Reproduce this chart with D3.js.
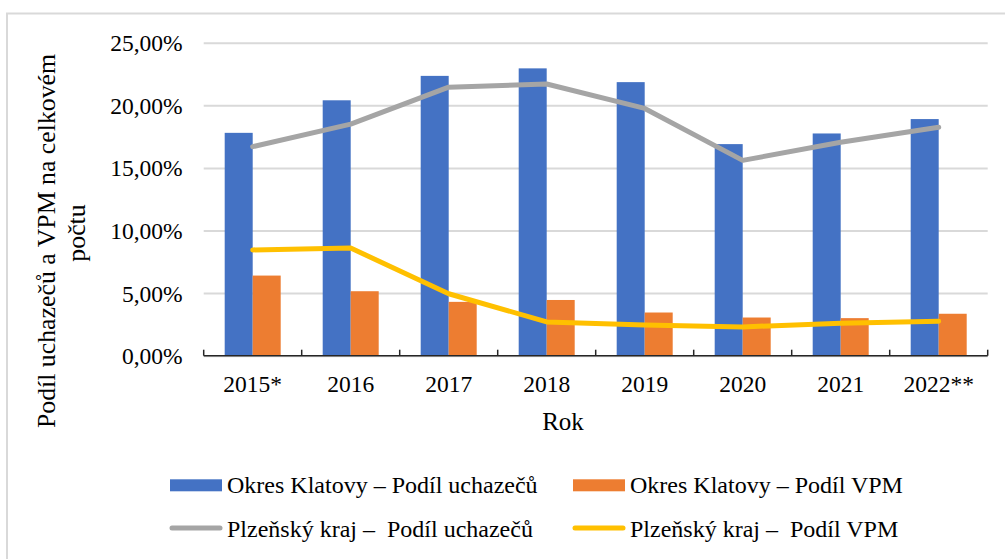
<!DOCTYPE html>
<html>
<head>
<meta charset="utf-8">
<script src="https://cdn.jsdelivr.net/npm/d3@7"></script>
<style>
  body { margin: 0; background: #fff; }
  svg { display: block; }
  svg text { font-family: "Liberation Serif", "Times New Roman", serif; fill: #000; }
  .tick text { font-size: 23.5px; }
  .legend text { font-size: 24px; white-space: pre; }
</style>
</head>
<body>
<svg id="chart" width="1005" height="559"></svg>
<script>
const years = ['2015*', '2016', '2017', '2018', '2019', '2020', '2021', '2022**'];
const klatovyUchazeci = [17.8, 20.4, 22.35, 22.95, 21.85, 16.9, 17.75, 18.9];
const klatovyVPM = [6.4, 5.15, 4.3, 4.45, 3.45, 3.05, 3.0, 3.35];
const plzenUchazeci = [16.7, 18.5, 21.45, 21.7, 19.75, 15.6, 17.05, 18.25];
const plzenVPM = [8.45, 8.6, 4.95, 2.7, 2.45, 2.3, 2.6, 2.75];
const yTicks = [0, 5, 10, 15, 20, 25];

const barSeries = [
  { name: 'Okres Klatovy – Podíl uchazečů', values: klatovyUchazeci, color: '#4472C4' },
  { name: 'Okres Klatovy – Podíl VPM', values: klatovyVPM, color: '#ED7D31' }
];
const lineSeries = [
  { name: 'Plzeňský kraj –  Podíl uchazečů', values: plzenUchazeci, color: '#A5A5A5' },
  { name: 'Plzeňský kraj –  Podíl VPM', values: plzenVPM, color: '#FFC000' }
];

const plotLeft = 203.7, plotRight = 987.7, plotTop = 42.7, plotBottom = 355.7;
const svg = d3.select('#chart');

// chart frame (only top and left edges are inside the picture)
svg.append('rect')
  .attr('x', 7).attr('y', 13.5)
  .attr('width', 1100).attr('height', 700)
  .attr('fill', 'none').attr('stroke', '#D9D9D9').attr('stroke-width', 2);

const x0 = d3.scaleBand().domain(years).range([plotLeft, plotRight]);
const x1 = d3.scaleBand().domain(barSeries.map(s => s.name))
  .range([0, x0.bandwidth()]).paddingOuter(0.75);
const y = d3.scaleLinear().domain([0, 25]).range([plotBottom, plotTop]);

// gridlines + y labels
const yAxis = d3.axisLeft(y).tickValues(yTicks)
  .tickSize(-(plotRight - plotLeft)).tickPadding(21)
  .tickFormat(v => v.toFixed(2).replace('.', ',') + '%');
svg.append('g')
  .attr('transform', `translate(${plotLeft},0)`)
  .call(yAxis)
  .attr('font-family', null)
  .attr('font-size', null)
  .call(g => g.select('.domain').remove())
  .call(g => g.selectAll('.tick line').attr('stroke', '#D9D9D9').attr('stroke-width', 2))
  .call(g => g.selectAll('.tick text').attr('dy', '0.34em'));

// bars
barSeries.forEach(s => {
  svg.append('g').selectAll('rect')
    .data(s.values)
    .join('rect')
    .attr('x', (d, i) => x0(years[i]) + x1(s.name))
    .attr('y', d => y(d))
    .attr('width', x1.bandwidth())
    .attr('height', d => plotBottom - y(d))
    .attr('fill', s.color);
});

// x axis with ticks pointing up at category boundaries
svg.append('line')
  .attr('x1', plotLeft).attr('x2', plotRight)
  .attr('y1', plotBottom).attr('y2', plotBottom)
  .attr('stroke', '#262626').attr('stroke-width', 1.5);
svg.append('g').selectAll('line')
  .data(years.concat(['end']))
  .join('line')
  .attr('x1', (d, i) => plotLeft + i * x0.step())
  .attr('x2', (d, i) => plotLeft + i * x0.step())
  .attr('y1', plotBottom).attr('y2', plotBottom - 6)
  .attr('stroke', '#262626').attr('stroke-width', 1.5);
svg.append('g').attr('class', 'tick').selectAll('text')
  .data(years)
  .join('text')
  .attr('x', d => x0(d) + x0.bandwidth() / 2)
  .attr('y', 392.3)
  .attr('text-anchor', 'middle')
  .text(d => d);

// lines
const line = d3.line()
  .x((d, i) => x0(years[i]) + x0.bandwidth() / 2)
  .y(d => y(d));
lineSeries.forEach(s => {
  svg.append('path')
    .datum(s.values)
    .attr('d', line)
    .attr('fill', 'none')
    .attr('stroke', s.color)
    .attr('stroke-width', 5)
    .attr('stroke-linejoin', 'round')
    .attr('stroke-linecap', 'round');
});

// axis titles
svg.append('text')
  .attr('x', 563).attr('y', 430)
  .attr('text-anchor', 'middle')
  .style('font-size', '25px')
  .text('Rok');
const yTitle = svg.append('text')
  .attr('transform', 'translate(55,241) rotate(-90)')
  .attr('text-anchor', 'middle')
  .style('font-size', '25.8px');
yTitle.append('tspan').attr('x', 0).attr('y', 0).text('Podíl uchazečů a VPM na celkovém');
yTitle.append('tspan').attr('x', 8).attr('y', 29.5).text('počtu');

// legend
const legend = svg.append('g').attr('class', 'legend');
const legendItems = [
  { s: barSeries[0], type: 'rect', x: 170, y: 493.3 },
  { s: barSeries[1], type: 'rect', x: 573, y: 493.3 },
  { s: lineSeries[0], type: 'line', x: 170, y: 536.5 },
  { s: lineSeries[1], type: 'line', x: 573, y: 536.5 }
];
legendItems.forEach(it => {
  if (it.type === 'rect') {
    legend.append('rect')
      .attr('x', it.x).attr('y', it.y - 14)
      .attr('width', 52).attr('height', 12)
      .attr('fill', it.s.color);
  } else {
    legend.append('line')
      .attr('x1', it.x + 2).attr('x2', it.x + 50)
      .attr('y1', it.y - 8.5).attr('y2', it.y - 8.5)
      .attr('stroke', it.s.color).attr('stroke-width', 5)
      .attr('stroke-linecap', 'round');
  }
  legend.append('text')
    .attr('x', it.x + 57).attr('y', it.y)
    .attr('xml:space', 'preserve')
    .text(it.s.name);
});
</script>
</body>
</html>
